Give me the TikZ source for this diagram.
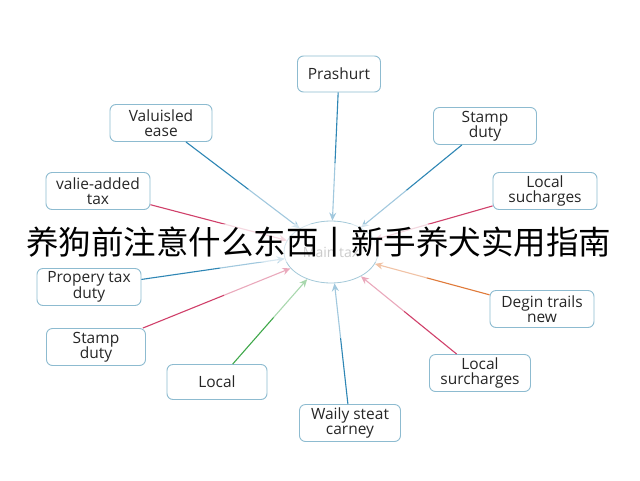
\documentclass[tikz,border=0pt]{standalone}
\usepackage{fontspec}
\setmainfont{Open Sans}
\newfontfamily\cjk{Noto Sans CJK SC}
\usetikzlibrary{arrows.meta,calc,shapes.geometric}
\definecolor{boxline}{HTML}{8DBBD0}
\definecolor{cblue}{HTML}{2E86B5}
\definecolor{cred}{HTML}{D0406A}
\definecolor{cgreen}{HTML}{3FA84A}
\definecolor{corange}{HTML}{E07A3A}
\tikzset{
  lbox/.style={draw=boxline, line width=0.9pt, rounded corners=6pt, fill=white,
    minimum width=100pt, minimum height=37pt, align=center, font=\fontsize{15.5}{15.5}\selectfont, text=black!85, inner sep=1pt},
  hubnode/.style={draw=boxline!80, line width=0.8pt, ellipse, minimum width=94pt, minimum height=62pt, font=\fontsize{14}{15}\selectfont, text=black!45},
  tip/.style={-{Stealth[length=8pt,width=7pt]}},
}
\newcommand{\conn}[3]{%
  \path (#1) -- (#2) coordinate[pos=0.55] (#1h);
  \draw[#3, line width=1.1pt] (#1) -- (#1h);
  \draw[#3!45, line width=1.1pt, tip] (#1h) -- (#2);
}
\begin{document}
\begin{tikzpicture}[x=1pt,y=-1pt]
\useasboundingbox (0,0) rectangle (640,480);
\fill[white] (0,0) rectangle (640,480);
\node[hubnode] (m) at (331,252) {Main tax};
\node[lbox, minimum width=83pt, minimum height=36pt] (p) at (339,74) {Prashurt};
\node[lbox, minimum width=102pt] (v) at (161,123) {Valuisled\\ease};
\node[lbox, minimum width=103pt] (sd1) at (485,126) {Stamp\\duty};
\node[lbox, minimum width=104pt] (va) at (98,191) {valie-added\\tax};
\node[lbox, minimum width=104pt] (ls1) at (545,191) {Local\\sucharges};
\node[lbox, minimum width=104pt] (pt) at (89,287) {Propery tax\\duty};
\node[lbox, minimum width=99pt] (sd2) at (96,347) {Stamp\\duty};
\node[lbox, minimum width=100pt, minimum height=35pt] (lo) at (217,382) {Local};
\node[lbox, minimum width=101pt] (wa) at (350,423) {Waily steat\\carney};
\node[lbox, minimum width=101pt] (ls2) at (480,373) {Local\\surcharges};
\node[lbox, minimum width=104pt] (dg) at (542,309) {Degin trails\\new};
\conn{p}{m}{cblue}
\conn{v}{m}{cblue}
\conn{sd1}{m}{cblue}
\conn{va}{m}{cred}
\conn{ls1}{m}{cred}
\conn{pt}{m}{cblue}
\conn{sd2}{m}{cred}
\conn{lo}{m}{cgreen}
\conn{wa}{m}{cblue}
\conn{ls2}{m}{cred}
\conn{dg}{m}{corange}
\fill[white, opacity=0.55] (0,224) rectangle (640,262);
\node[font=\cjk\fontsize{32.5}{34}\selectfont, text=black, inner sep=0pt] (title) at (319,242) {养狗前注意什么东西丨新手养犬实用指南};
\end{tikzpicture}
\end{document}
